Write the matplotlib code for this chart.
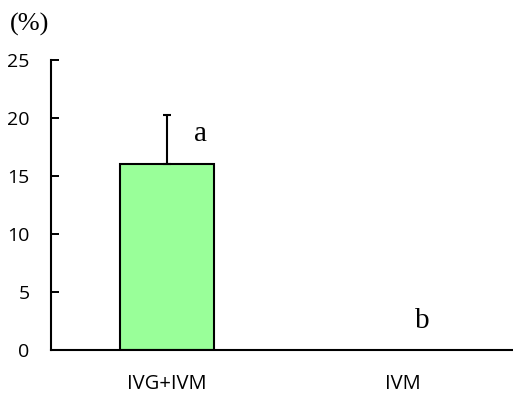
import matplotlib
matplotlib.use("Agg")
import matplotlib.pyplot as plt

categories = ["IVG+IVM", "IVM"]
values = [16.0, 0.0]
errors = [4.3, 0.0]
letters = ["a", "b"]
yticks = [0, 5, 10, 15, 20, 25]

fig = plt.figure(figsize=(5.13, 3.94), dpi=100)
ax = fig.add_axes([51/513, 1 - 350/394, (513-51)/513, (350-60)/394])

x = [0, 1]
ax.bar(x[0], values[0], width=0.4, color="#99ff99", edgecolor="black", linewidth=1.5, zorder=2)
ax.errorbar(x[0], values[0], yerr=[[0], [errors[0]]], fmt="none", ecolor="black",
            elinewidth=1.5, capsize=3, capthick=1.5, zorder=3)

ax.set_xlim(-0.494, 1.47)
ax.set_ylim(0, 25)
ax.set_yticks(yticks)
ax.set_yticklabels([str(t) for t in yticks], family="Open Sans", fontsize=14)
ax.tick_params(axis="y", direction="in", length=6, width=1.4, pad=15.5)
ax.set_xticks(x)
ax.set_xticklabels(categories, family="Open Sans", fontsize=14.5)
ax.tick_params(axis="x", length=0, pad=17)

for s in ["top", "right"]:
    ax.spines[s].set_visible(False)
for s in ["left", "bottom"]:
    ax.spines[s].set_linewidth(1.5)

ax.text(0.142, 18.0, letters[0], family="Liberation Serif",
        fontsize=21, ha="center", va="baseline")
ax.text(1.083, 1.92, letters[1], family="Liberation Serif",
        fontsize=21, ha="center", va="baseline")

fig.text(10/513, 1 - 24/394, "(%)", family="Liberation Serif", fontsize=19, ha="left", va="center")

fig.savefig("out.png", dpi=100)
